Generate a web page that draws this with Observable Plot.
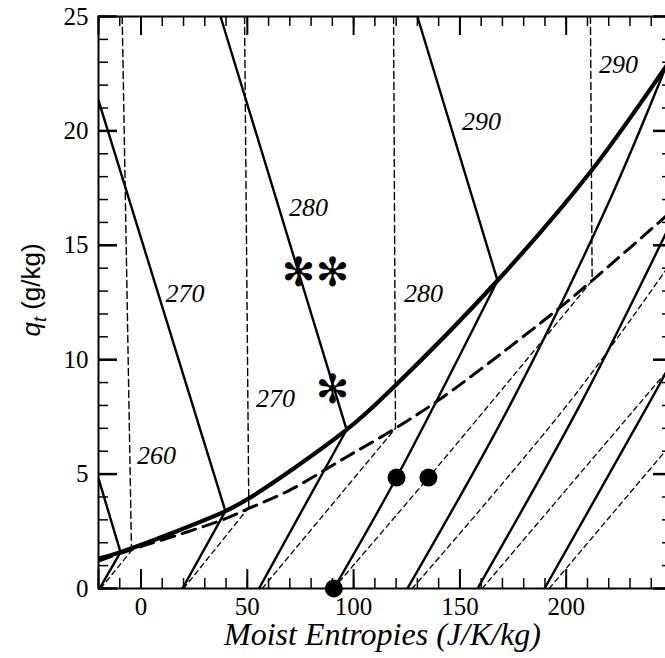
<!DOCTYPE html>
<html><head><meta charset="utf-8">
<script src="https://cdn.jsdelivr.net/npm/d3@7"></script>
<script src="https://cdn.jsdelivr.net/npm/@observablehq/plot@0.6"></script>
<style>
html,body{margin:0;padding:0;background:#fff;overflow:hidden;}
#wrap{width:665px;height:658px;overflow:hidden;position:relative;}
#wrap svg{max-width:none !important;display:block;}
</style></head><body><div id="wrap"></div>
<script>
// ---- data (entropy J/K/kg, qt g/kg) ----
const satCurve = [[-20,1.31],[-9.65,1.59],[39.7,3.38],[50.6,3.93],[96.7,6.94],[118.8,8.8],[167.7,13.46],[211.9,18.27],[246.7,22.78],[252,23.5]];
const dashCurve = [[-20,1.2],[-4.5,1.7],[20,2.42],[39.7,3.05],[50.7,3.5],[70,4.3],[96.7,5.75],[119.7,7.0],[139.5,8.2],[160,9.6],[196,12.2],[212.2,13.46],[246,16.2],[252,16.7]];
const descLines = [
  [[-20,21.33],[39.7,3.38]],
  [[-20,4.81],[-9.65,1.59]],
  [[37.4,25],[96.7,6.94]],
  [[130,25],[167.7,13.46]]
];
const ascLines = [
  [[-19.5,0],[-9.65,1.59]],
  [[19.5,0],[39.7,3.38]],
  [[55.5,0],[96.7,6.94]],
  [[90.7,0],[120.2,4.85],[167.7,13.46]],
  [[125.3,0],[174.6,8.2],[220.4,16.96],[245.8,22.55]],
  [[158.3,0],[207.5,8.2],[252,16.5]],
  [[189.8,0],[239.6,8.2],[252,10.3]]
];
const vertLines = [
  [[-8.85,25],[-4.48,1.66]],
  [[48.7,25],[50.7,3.54]],
  [[118.8,25],[119.7,7.0]],
  [[211.4,25],[212.2,13.46]]
];
const ascDashed = [
  [[-19,0],[-4.48,1.66]],
  [[20,0],[50.7,3.54]],
  [[57,0],[119.7,7.0]],
  [[90.5,0],[135.2,4.85],[212.2,13.46]],
  [[127.6,0],[202,8.2],[252,14.6]],
  [[160.5,0],[252,10.0]],
  [[192,0],[252,6.6]]
];
const dots = [[90.7,0],[120.2,4.85],[135.2,4.85]];
const stars = [[74.1,13.77],[90.1,13.77],[90.1,8.65]];
const labels = [
  ["260",7.3,5.81],["270",20.7,12.9],["270",63.3,8.3],["280",78.8,16.65],
  ["280",132.9,12.9],["290",160.1,20.4],["290",224.6,22.9]
];
const xTickLabels = [0,50,100,150,200];
const yTickLabels = [0,5,10,15,20,25];
const xMajor = [-20,0,50,100,150,200,250];
const xMinor = d3.range(-20,251,10);
const yMinor = d3.range(0,26,1);

const flat = arr => arr.flatMap((l,i)=>l.map(p=>({s:p[0],q:p[1],id:i})));

const W = 673, H = 658, mL = 98, mR = 1, mT = 16, mB = 70;
const fw = W-mL-mR, fh = H-mT-mB;
const serif = "'Liberation Serif','Times New Roman',serif";

const chart = Plot.plot({
  width: W, height: H, marginLeft: mL, marginRight: mR, marginTop: mT, marginBottom: mB,
  x: {domain: [-20,250]},
  y: {domain: [0,25]},
  style: {fontFamily: serif, fontSize: "25px", color: "black", background: "white"},
  marks: [
    Plot.line(flat(vertLines), {x:"s", y:"q", z:"id", stroke:"black", strokeWidth:1.4, strokeDasharray:"7,4", clip:true}),
    Plot.line(flat(ascDashed), {x:"s", y:"q", z:"id", stroke:"black", strokeWidth:1.3, strokeDasharray:"5,4", curve:"catmull-rom", clip:true}),
    Plot.line(flat(ascLines), {x:"s", y:"q", z:"id", stroke:"black", strokeWidth:2.4, curve:"catmull-rom", clip:true}),
    Plot.line(flat(descLines), {x:"s", y:"q", z:"id", stroke:"black", strokeWidth:2.4, clip:true}),
    Plot.line(dashCurve, {x:d=>d[0], y:d=>d[1], stroke:"black", strokeWidth:3, strokeDasharray:"14,8", curve:"catmull-rom", clip:true}),
    Plot.line(satCurve, {x:d=>d[0], y:d=>d[1], stroke:"black", strokeWidth:4.2, curve:"catmull-rom", clip:true}),
    Plot.dot(dots, {x:d=>d[0], y:d=>d[1], r:9, fill:"black", stroke:"none"}),
    Plot.text(stars, {x:d=>d[0], y:d=>d[1], text:()=>"\u273B", fontSize:40, fontFamily:"'DejaVu Sans',sans-serif", fill:"black"}),
    Plot.text(labels, {x:d=>d[1], y:d=>d[2], text:d=>d[0], fontStyle:"italic", fontSize:26, fontFamily:serif, fill:"black"}),
    // ticks (inward)
    Plot.ruleX(xMinor, {x:d=>d, insetTop: fh-10, strokeWidth:1.5}),
    Plot.ruleX(xMajor, {x:d=>d, insetTop: fh-19, strokeWidth:2}),
    Plot.ruleX(xMinor, {x:d=>d, insetBottom: fh-10, strokeWidth:1.5}),
    Plot.ruleX(xMajor, {x:d=>d, insetBottom: fh-19, strokeWidth:2}),
    Plot.ruleY(yMinor, {y:d=>d, insetRight: fw-10, strokeWidth:1.5}),
    Plot.ruleY(yTickLabels, {y:d=>d, insetRight: fw-19, strokeWidth:2.5}),
    Plot.ruleY(yMinor, {y:d=>d, insetLeft: fw-10, strokeWidth:1.5}),
    Plot.ruleY(yTickLabels, {y:d=>d, insetLeft: fw-19, strokeWidth:2.5}),
    Plot.frame({stroke:"black", strokeWidth:2}),
    Plot.axisX(xTickLabels, {tickSize:0, tickPadding:9, label:null, fontSize:25}),
    Plot.axisY(yTickLabels, {tickSize:0, tickPadding:10, label:null, fontSize:25}),
    Plot.text(["Moist Entropies (J/K/kg)"], {frameAnchor:"bottom", dx:-3, dy:56, fontStyle:"italic", fontSize:32, letterSpacing:"2px", fontFamily:serif, fill:"black"})
  ]
});

const t = d3.select(chart).append("text")
  .attr("transform","translate(40,290) rotate(-90)")
  .attr("text-anchor","middle")
  .attr("font-family","'Liberation Sans',Arial,sans-serif")
  .attr("font-size",26).attr("fill","black");
t.append("tspan").attr("font-style","italic").text("q");
t.append("tspan").attr("font-style","italic").attr("font-size",18).attr("dy",6).text("t");
t.append("tspan").attr("dy",-6).text(" (g/kg)");

document.getElementById("wrap").appendChild(chart);
</script></body></html>
